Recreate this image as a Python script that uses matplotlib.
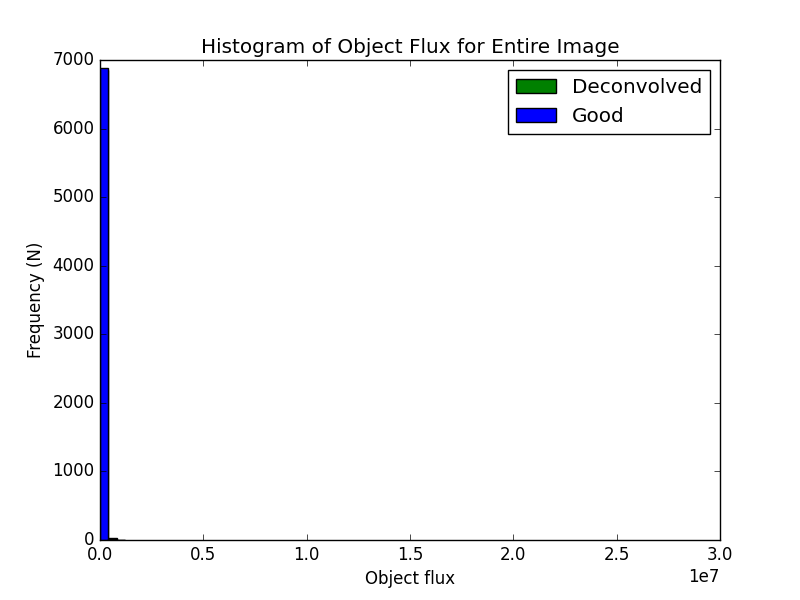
import matplotlib
matplotlib.use("Agg")
import matplotlib.pyplot as plt

plt.style.use("classic")
bin_edges = [0, 4e5, 8e5, 1.2e6]
deconv_counts = [6850, 25, 6]
good_counts = [6880, 20, 5]

fig, ax = plt.subplots(figsize=(8, 6), dpi=100)
w = bin_edges[1] - bin_edges[0]
ax.bar(bin_edges[:-1], deconv_counts, width=w, align="edge", color="green", label="Deconvolved")
ax.bar(bin_edges[:-1], good_counts, width=w, align="edge", color="blue", label="Good")
ax.set_xlim(0, 3e7)
ax.set_ylim(0, 7000)
ax.set_title("Histogram of Object Flux for Entire Image")
ax.set_xlabel("Object flux")
ax.set_ylabel("Frequency (N)")
ax.legend(loc="upper right")
fig.savefig("out.png", dpi=100)
